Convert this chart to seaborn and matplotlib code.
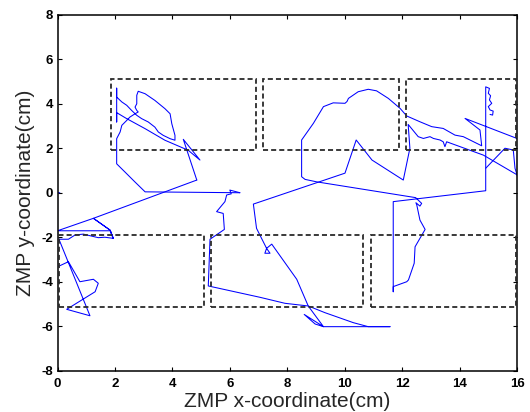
import matplotlib
matplotlib.use("Agg")
import matplotlib.pyplot as plt
import seaborn as sns
import pandas as pd
from matplotlib.patches import Rectangle

# ZMP trajectory pieces (cm)
s1_x = [0.08, 0.00, 0.00, 0.38, 0.78, 1.25, 1.42, 1.31, 0.32, 1.13, 0.05, 0.38, 0.61,
        0.90, 1.19, 1.42, 1.65, 1.94, 1.84, 0.00, 1.25, 1.83, 1.94, 1.83, 1.25, 4.85]
s1_y = [0.00, 0.00, -3.33, -3.10, -4.00, -3.89, -4.07, -4.45, -5.24, -5.53, -2.09, -2.09, -1.90,
        -1.86, -1.95, -2.02, -2.00, -2.05, -1.71, -1.71, -1.15, -1.68, -2.05, -1.68, -1.15, 0.57]

s2_x = [4.85, 4.38, 4.96, 4.55, 3.74, 3.05, 2.41, 2.06, 2.06, 2.06, 2.06, 2.24, 2.41, 2.58, 2.76,
        2.93, 3.16, 3.39, 3.51, 3.68, 3.92, 4.09, 4.09, 3.98, 3.92, 3.74, 3.39, 3.05, 2.81, 2.76,
        2.76, 2.70, 2.76, 2.81, 2.70, 2.52, 2.41, 2.24, 2.18, 2.06, 2.06, 2.35, 2.70, 3.05, 6.35]
s2_y = [0.57, 2.40, 1.47, 1.91, 2.36, 2.88, 3.33, 3.60, 3.18, 4.70, 4.30, 4.08, 3.93, 3.70, 3.48,
        3.33, 3.18, 2.95, 2.73, 2.58, 2.43, 2.36, 2.58, 3.10, 3.55, 3.78, 4.15, 4.45, 4.56, 4.38,
        4.00, 3.85, 3.70, 3.63, 3.55, 3.40, 3.25, 3.03, 2.73, 2.43, 1.30, 0.93, 0.48, 0.04, 0.00]

s3_x = [6.35, 6.00, 6.05, 5.89, 5.83, 5.54, 5.77, 5.81, 5.31, 5.25, 7.05, 7.92, 8.73, 9.31,
        10.30, 10.82, 11.58]
s3_y = [0.00, 0.12, -0.05, -0.10, -0.40, -0.85, -0.93, -1.65, -2.09, -4.19, -4.70, -4.97, -5.09,
        -5.39, -5.84, -6.02, -6.02]

s4_x = [11.58, 9.26, 8.97, 8.59, 9.26, 8.73, 8.33, 7.46, 7.28, 7.40, 7.22, 7.28, 6.93, 6.82,
        10.01, 10.40, 10.95, 12.04, 12.27, 12.21, 12.56, 12.74, 12.97, 13.09, 13.32, 13.43,
        13.49, 13.55, 14.83, 16.30]
s4_y = [-6.02, -6.02, -5.90, -5.47, -6.02, -5.09, -3.89, -2.31, -2.50, -2.72, -2.72, -2.50,
        -1.60, -0.51, 0.88, 2.37, 1.47, 0.57, 2.00, 3.07, 2.52, 2.44, 2.52, 2.44, 2.37, 2.29,
        2.07, 2.29, 1.69, 0.58]

s5_x = [16.30, 14.19, 14.71, 14.77, 14.13, 13.84, 13.43, 13.03, 12.62, 12.16, 11.93, 11.52,
        11.11, 10.82, 10.47, 10.13, 10.08, 10.01, 9.60, 9.26, 8.91, 8.50, 8.50, 8.62, 9.02,
        12.47, 12.68, 12.62, 12.48, 12.51, 12.62, 12.80, 12.62, 12.45, 12.42, 12.22, 12.16,
        11.69, 11.69, 11.69, 14.91, 14.91, 15.04, 15.00, 15.08, 15.04, 15.12, 15.00, 15.06,
        15.17, 15.15, 15.06]
s5_y = [2.29, 3.34, 2.82, 2.11, 2.52, 2.59, 2.89, 2.97, 3.19, 3.45, 3.79, 4.24, 4.58, 4.65,
        4.54, 4.24, 4.10, 4.02, 4.04, 3.87, 3.12, 2.37, 0.72, 0.60, 0.49, -0.22, -0.48, -0.60,
        -0.45, -0.55, -1.23, -1.65, -2.05, -2.43, -3.17, -3.92, -4.00, -4.22, -4.45, -0.40,
        0.09, 4.76, 4.69, 4.47, 4.36, 4.17, 4.02, 3.87, 3.72, 3.67, 3.49, 3.52]

s6_x = [14.91, 15.58, 15.87, 15.93, 16.05]
s6_y = [1.10, 2.00, 1.92, 1.10, 0.60]

# Foot support regions (dashed rectangles)
box_x0 = [1.85, 7.15, 12.15, 0.05, 5.35, 10.90]
box_x1 = [6.90, 11.90, 15.95, 5.10, 10.65, 15.95]
box_y0 = [1.93, 1.93, 1.93, -5.12, -5.12, -5.12]
box_y1 = [5.11, 5.11, 5.11, -1.92, -1.92, -1.92]

x_ticks = [0, 2, 4, 6, 8, 10, 12, 14, 16]
y_ticks = [-8, -6, -4, -2, 0, 2, 4, 6, 8]

sns.set_style("ticks")
plt.rcParams["font.family"] = ["Liberation Sans", "DejaVu Sans"]

segments = [(s1_x, s1_y), (s2_x, s2_y), (s3_x, s3_y), (s4_x, s4_y), (s5_x, s5_y), (s6_x, s6_y)]
frames = []
for i, (sx, sy) in enumerate(segments):
    frames.append(pd.DataFrame({"x": sx, "y": sy, "seg": i, "order": range(len(sx))}))
df = pd.concat(frames, ignore_index=True)

fig = plt.figure(figsize=(5.30, 4.12), dpi=100)
ax = fig.add_axes([0.1085, 0.1002, 0.867, 0.864])

sns.lineplot(data=df, x="x", y="y", units="seg", estimator=None, sort=False,
             color="#0000ff", linewidth=0.75, ax=ax, legend=False)

for x0, x1, y0, y1 in zip(box_x0, box_x1, box_y0, box_y1):
    ax.add_patch(Rectangle((x0, y0), x1 - x0, y1 - y0, fill=False, edgecolor="#2a2a2a",
                           linewidth=1.3, linestyle=(0, (2.8, 1.7)), zorder=3))

ax.set_xlim(0, 16)
ax.set_ylim(-8, 8)
ax.set_xticks(x_ticks)
ax.set_yticks(y_ticks)
ax.set_xticklabels([str(t) for t in x_ticks])
ax.set_yticklabels([str(t) for t in y_ticks])
ax.tick_params(direction="in", top=True, right=True, length=3, width=0.8,
               labelsize=9.5, colors="black")
ax.tick_params(axis="x", pad=5)
ax.tick_params(axis="y", pad=3)
for lbl in ax.get_xticklabels() + ax.get_yticklabels():
    lbl.set_fontweight("bold")
for sp in ax.spines.values():
    sp.set_visible(True)
    sp.set_color("black")
    sp.set_linewidth(1.1)

ax.set_xlabel("ZMP x-coordinate(cm)", fontsize=15, labelpad=2)
ax.set_ylabel("ZMP y-coordinate(cm)", fontsize=15, labelpad=5)

fig.savefig("out.png", dpi=100)
